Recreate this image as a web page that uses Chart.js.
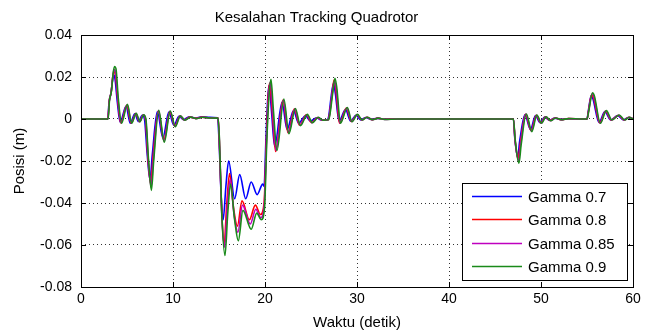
<!DOCTYPE html>
<html>
<head>
<meta charset="utf-8">
<script src="https://cdn.jsdelivr.net/npm/chart.js@4/dist/chart.umd.min.js"></script>
<style>
  html, body { margin: 0; padding: 0; background: #fff; }
  canvas { display: block; }
</style>
</head>
<body>
<canvas id="chart" width="649" height="332"></canvas>
<script>
// Axis ticks
const xTicks = [0, 10, 20, 30, 40, 50, 60];
const yTicks = [-0.08, -0.06, -0.04, -0.02, 0, 0.02, 0.04];

// Series names
const seriesNames = ['Gamma 0.7', 'Gamma 0.8', 'Gamma 0.85', 'Gamma 0.9'];

// Tracking error samples, [time (s), error (m)]
const gamma07 = [
  [0,0],[2.9,0],[3.05,0.008],[3.25,0.012],[3.45,0.019],[3.55,0.021],[3.7,0.019],[3.95,0.008],[4.25,-0.0015],
  [4.9,0.006],[5.35,-0.002],[5.85,0.0025],[6.25,-0.0012],[6.65,0.0018],[6.9,0.0],[7.2,-0.017],[7.5,-0.029],
  [7.75,-0.017],[8.3,0.0035],[8.9,-0.009],[9.55,0.0033],[10.1,-0.003],[10.65,0.0013],[11.15,-0.0003],
  [11.75,0.0011],[12.4,0.0005],[13.1,0.001],[14.0,0.0008],[14.85,0.0006],[15.0,-0.01],[15.25,-0.038],
  [15.45,-0.048],[15.75,-0.032],[16.05,-0.020],[16.7,-0.038],[17.25,-0.0265],[17.9,-0.038],[18.5,-0.030],
  [19.15,-0.036],[19.75,-0.031],[19.9,-0.032],[20.1,-0.01],[20.3,0.01],[20.45,0.016],[20.7,0.004],
  [21.05,-0.013],[21.85,0.008],[22.4,-0.005],[23.1,0.004],[23.65,-0.002],[24.4,0.0015],[24.95,-0.001],
  [25.6,0.0006],[26.1,-0.0004],[26.8,-0.0003],[26.95,0.002],[27.2,0.011],[27.45,0.017],[27.65,0.012],
  [28.05,-0.001],[28.75,0.0045],[29.3,-0.001],[29.9,0.0018],[30.4,-0.0004],[30.95,0.0007],[31.55,-0.0002],
  [32.2,0.0003],[33.0,0],[47.0,0],[47.15,-0.009],[47.45,-0.018],[47.7,-0.01],[48.25,0.002],[48.85,-0.005],
  [49.4,0.0016],[49.9,-0.0017],[50.4,0.0009],[50.9,-0.0006],[51.5,0.0004],[52.1,-0.0002],[53.0,0.0001],
  [54.5,0],[55.0,0],[55.15,0.004],[55.45,0.011],[55.65,0.0095],[56.3,-0.0017],[56.95,0.0035],[57.55,-0.0004],
  [58.35,0.0016],[58.95,-0.0004],[59.5,0.0007],[60,0.0002]
];

const gamma08 = [
  [0,0],[2.92,0],[3.07,0.0085],[3.27,0.0125],[3.47,0.0205],[3.6,0.0225],[3.75,0.021],[4.0,0.009],[4.32,-0.0018],
  [4.98,0.0065],[5.45,-0.002],[5.95,0.0026],[6.35,-0.0013],[6.75,0.0019],[7.0,0.0],[7.28,-0.019],[7.58,-0.031],
  [7.83,-0.018],[8.4,0.0038],[9.0,-0.010],[9.65,0.0036],[10.2,-0.0034],[10.75,0.0014],[11.25,-0.0005],
  [11.85,0.001],[12.45,0.0003],[13.15,0.0009],[14.0,0.0006],[14.9,0.0005],[15.03,-0.01],[15.28,-0.042],
  [15.55,-0.060],[15.85,-0.04],[16.15,-0.026],[16.6,-0.043],[17.0,-0.051],[17.5,-0.039],[18.3,-0.048],
  [18.95,-0.041],[19.5,-0.0455],[19.9,-0.04],[20.15,-0.01],[20.35,0.011],[20.5,0.017],[20.78,0.004],
  [21.15,-0.0155],[21.95,0.009],[22.5,-0.0065],[23.2,0.0048],[23.75,-0.003],[24.5,0.002],[25.05,-0.0017],
  [25.7,0.0007],[26.2,-0.0005],[26.85,-0.0004],[27.0,0.002],[27.28,0.0115],[27.5,0.0185],[27.72,0.013],
  [28.1,-0.002],[28.85,0.0052],[29.38,-0.0012],[30.0,0.002],[30.5,-0.0005],[31.05,0.0008],[31.65,-0.0003],
  [32.25,0.0004],[33.0,-0.0001],[34.0,0],[47.0,0],[47.17,-0.0095],[47.5,-0.019],[47.77,-0.011],[48.32,0.0022],
  [48.92,-0.0055],[49.48,0.0018],[49.98,-0.0019],[50.48,0.001],[50.98,-0.0007],[51.55,0.0005],[52.15,-0.0003],
  [53.0,0.0002],[54.5,0],[55.0,0],[55.17,0.004],[55.5,0.0115],[55.72,0.01],[56.38,-0.0019],[57.02,0.0038],
  [57.62,-0.0005],[58.42,0.0018],[59.02,-0.0005],[59.55,0.0008],[60,0.0001]
];

const gamma085 = [
  [0,0],[2.93,0],[3.08,0.0088],[3.28,0.0128],[3.48,0.021],[3.62,0.0235],[3.77,0.022],[4.02,0.0095],[4.36,-0.0019],
  [5.02,0.0068],[5.48,-0.002],[5.98,0.0026],[6.38,-0.0013],[6.78,0.002],[7.02,0.0],[7.32,-0.0195],[7.62,-0.0325],
  [7.87,-0.019],[8.42,0.004],[9.02,-0.0105],[9.68,0.0037],[10.22,-0.0035],[10.78,0.0015],[11.28,-0.0005],
  [11.88,0.0009],[12.48,0.0002],[13.18,0.0008],[14.0,0.0005],[14.9,0.0004],[15.04,-0.01],[15.29,-0.044],
  [15.6,-0.061],[15.9,-0.042],[16.2,-0.029],[16.65,-0.046],[17.05,-0.054],[17.55,-0.041],[18.4,-0.050],
  [19.0,-0.043],[19.55,-0.047],[19.92,-0.041],[20.17,-0.01],[20.4,0.0115],[20.57,0.0175],[20.84,0.004],
  [21.2,-0.015],[22.0,0.009],[22.55,-0.0065],[23.25,0.0048],[23.8,-0.003],[24.55,0.002],[25.1,-0.0018],
  [25.75,0.0007],[26.25,-0.0005],[26.88,-0.0004],[27.02,0.002],[27.3,0.0118],[27.55,0.018],[27.76,0.014],
  [28.15,-0.002],[28.9,0.0052],[29.42,-0.0012],[30.02,0.0021],[30.52,-0.0005],[31.08,0.0008],[31.68,-0.0003],
  [32.28,0.0004],[33.0,-0.0002],[34.2,0],[47.0,0],[47.18,-0.0098],[47.55,-0.020],[47.8,-0.0115],[48.36,0.0023],
  [48.96,-0.0058],[49.52,0.0018],[50.02,-0.002],[50.52,0.001],[51.02,-0.0008],[51.58,0.0005],[52.18,-0.0003],
  [53.0,0.0002],[54.5,0],[55.0,0],[55.18,0.004],[55.55,0.012],[55.76,0.0105],[56.42,-0.002],[57.06,0.0039],
  [57.66,-0.0005],[58.46,0.0018],[59.06,-0.0005],[59.58,0.0008],[60,0]
];

const gamma09 = [
  [0,0],[2.95,0],[3.1,0.009],[3.3,0.013],[3.5,0.022],[3.65,0.025],[3.8,0.024],[4.05,0.010],[4.4,-0.002],
  [5.05,0.007],[5.5,-0.002],[6.0,0.0027],[6.4,-0.0013],[6.8,0.002],[7.05,0.0],[7.35,-0.02],[7.65,-0.034],
  [7.9,-0.02],[8.45,0.0042],[9.05,-0.011],[9.7,0.0038],[10.25,-0.0037],[10.8,0.0015],[11.3,-0.0006],
  [11.9,0.0009],[12.5,0.0002],[13.2,0.0008],[14.0,0.0005],[14.9,0.0004],[15.05,-0.01],[15.3,-0.045],
  [15.65,-0.065],[15.95,-0.045],[16.25,-0.031],[16.7,-0.048],[17.1,-0.058],[17.6,-0.0435],[18.5,-0.0525],
  [19.1,-0.0448],[19.6,-0.048],[19.95,-0.042],[20.2,-0.01],[20.45,0.012],[20.65,0.0189],[20.9,0.005],
  [21.3,-0.015],[22.05,0.0095],[22.6,-0.007],[23.3,0.005],[23.85,-0.0032],[24.6,0.0022],[25.15,-0.0018],
  [25.8,0.0008],[26.3,-0.0006],[26.9,-0.0004],[27.05,0.002],[27.35,0.012],[27.6,0.0194],[27.8,0.015],
  [28.2,-0.002],[28.95,0.0055],[29.45,-0.0013],[30.05,0.0022],[30.55,-0.0005],[31.1,0.0008],[31.7,-0.0003],
  [32.3,0.0004],[33.0,-0.0002],[34.4,0],[47.0,0],[47.2,-0.01],[47.6,-0.0211],[47.85,-0.012],[48.4,0.0024],
  [49.0,-0.006],[49.55,0.0019],[50.05,-0.002],[50.55,0.0011],[51.05,-0.0008],[51.6,0.0005],[52.2,-0.0003],
  [53.0,0.0002],[54.5,0],[55.0,0],[55.2,0.004],[55.6,0.0125],[55.8,0.011],[56.45,-0.002],[57.1,0.004],
  [57.7,-0.0005],[58.5,0.0019],[59.1,-0.0005],[59.6,0.0008],[60,0]
];

const seriesData = [gamma07, gamma08, gamma085, gamma09];
const seriesColors = ['#0000ff', '#ff0000', '#bf00bf', '#1a8a1a'];

const FONT = '"Liberation Sans", Arial, Helvetica, sans-serif';
Chart.defaults.font.family = FONT;
Chart.defaults.color = '#000';

// Solid axes box with inward tick marks on all four sides
const axesBox = {
  id: 'axesBox',
  afterDatasetsDraw(chart) {
    const { ctx, chartArea: a, scales: { x, y } } = chart;
    const len = 5;
    ctx.save();
    ctx.strokeStyle = '#000';
    ctx.lineWidth = 1;
    ctx.beginPath();
    xTicks.forEach(v => {
      const px = Math.round(x.getPixelForValue(v)) + 0.5;
      ctx.moveTo(px, a.bottom); ctx.lineTo(px, a.bottom - len);
      ctx.moveTo(px, a.top); ctx.lineTo(px, a.top + len);
    });
    yTicks.forEach(v => {
      const py = Math.round(y.getPixelForValue(v)) + 0.5;
      ctx.moveTo(a.left, py); ctx.lineTo(a.left + len, py);
      ctx.moveTo(a.right, py); ctx.lineTo(a.right - len, py);
    });
    ctx.stroke();
    ctx.strokeRect(Math.round(a.left) + 0.5, Math.round(a.top) + 0.5,
                   Math.round(a.right - a.left), Math.round(a.bottom - a.top));
    ctx.restore();
  }
};

// Boxed legend in the lower right corner of the axes
const boxLegend = {
  id: 'boxLegend',
  afterDraw(chart) {
    const { ctx, chartArea: a } = chart;
    const w = 165, h = 97;
    const x0 = Math.round(a.right - 6 - w), y0 = Math.round(a.bottom - 7 - h);
    ctx.save();
    ctx.fillStyle = '#fff';
    ctx.fillRect(x0, y0, w, h);
    ctx.strokeStyle = '#000';
    ctx.lineWidth = 1;
    ctx.strokeRect(x0 + 0.5, y0 + 0.5, w, h);
    ctx.font = '15px ' + FONT;
    ctx.textBaseline = 'middle';
    ctx.textAlign = 'left';
    chart.data.datasets.forEach((ds, i) => {
      const yy = Math.round(y0 + 13 + i * 23.4) + 0.5;
      ctx.strokeStyle = ds.borderColor;
      ctx.lineWidth = 1.6;
      ctx.beginPath();
      ctx.moveTo(x0 + 10, yy);
      ctx.lineTo(x0 + 60, yy);
      ctx.stroke();
      ctx.fillStyle = '#000';
      ctx.fillText(ds.label, x0 + 66, yy + 1);
    });
    ctx.restore();
  }
};

new Chart(document.getElementById('chart'), {
  type: 'line',
  data: {
    datasets: seriesData.map((pts, i) => ({
      label: seriesNames[i],
      data: pts.map(([t, v]) => ({ x: t, y: v })),
      borderColor: seriesColors[i],
      borderWidth: 1.6,
      pointRadius: 0,
      fill: false,
      cubicInterpolationMode: 'monotone',
      order: seriesData.length - 1 - i
    }))
  },
  options: {
    responsive: false,
    animation: false,
    devicePixelRatio: 1,
    layout: { padding: { left: 0, right: 16, top: 0, bottom: 0 } },
    plugins: {
      legend: { display: false },
      tooltip: { enabled: false },
      title: {
        display: true,
        text: 'Kesalahan Tracking Quadrotor',
        color: '#000',
        font: { size: 15, weight: 'normal' },
        padding: { top: 9, bottom: 8 }
      }
    },
    scales: {
      x: {
        type: 'linear',
        min: 0, max: 60,
        afterBuildTicks: s => { s.ticks = xTicks.map(v => ({ value: v })); },
        afterFit: s => { s.height = 45; },
        ticks: { padding: 4, font: { size: 14 }, color: '#000', maxRotation: 0, autoSkip: false },
        grid: { color: '#333', lineWidth: 1, drawTicks: false },
        border: { display: false, dash: [1, 3] },
        title: { display: true, text: 'Waktu (detik)', font: { size: 15 }, color: '#000', padding: { top: 0, bottom: 0 } }
      },
      y: {
        type: 'linear',
        min: -0.08, max: 0.04,
        afterBuildTicks: s => { s.ticks = yTicks.map(v => ({ value: v })); },
        afterFit: s => { s.width = 81; },
        ticks: {
          padding: 9, font: { size: 14 }, color: '#000', autoSkip: false,
          callback: v => (Math.abs(v) < 1e-9 ? '0' : v.toFixed(2))
        },
        grid: { color: '#333', lineWidth: 1, drawTicks: false },
        border: { display: false, dash: [1, 3] },
        title: { display: true, text: 'Posisi (m)', font: { size: 15 }, color: '#000', padding: { top: 11, bottom: 0 } }
      }
    }
  },
  plugins: [axesBox, boxLegend]
});
</script>
</body>
</html>
